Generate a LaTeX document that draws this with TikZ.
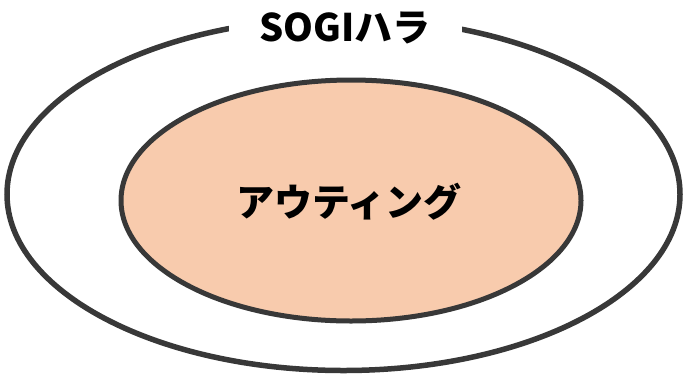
\documentclass[tikz,border=0pt]{standalone}
\usepackage{fontspec}
\newfontfamily\jp{Noto Sans CJK JP}
\definecolor{edge}{HTML}{383838}
\definecolor{peach}{HTML}{F8CBAD}
\begin{document}
\begin{tikzpicture}[x=1pt,y=-1pt,
  ring/.style={draw=edge,line width=5.5pt},
  lbl/.style={font=\jp\bfseries\fontsize{38}{40}\selectfont,text=black,inner sep=0pt}]
\useasboundingbox (0,0) rectangle (685,376);
\draw[ring] (343.5,194.3) ellipse [x radius=336.5pt, y radius=176.2pt];
\draw[ring,line width=5pt,fill=peach] (351,200.5) ellipse [x radius=230pt, y radius=120.5pt];
\node[lbl,fill=white,minimum width=233pt,minimum height=46pt] (outer) at (345,28) {SOGIハラ};
\node[lbl,font=\jp\bfseries\fontsize{38}{40}\selectfont] (inner) at (349,202) {アウティング};
\end{tikzpicture}
\end{document}
